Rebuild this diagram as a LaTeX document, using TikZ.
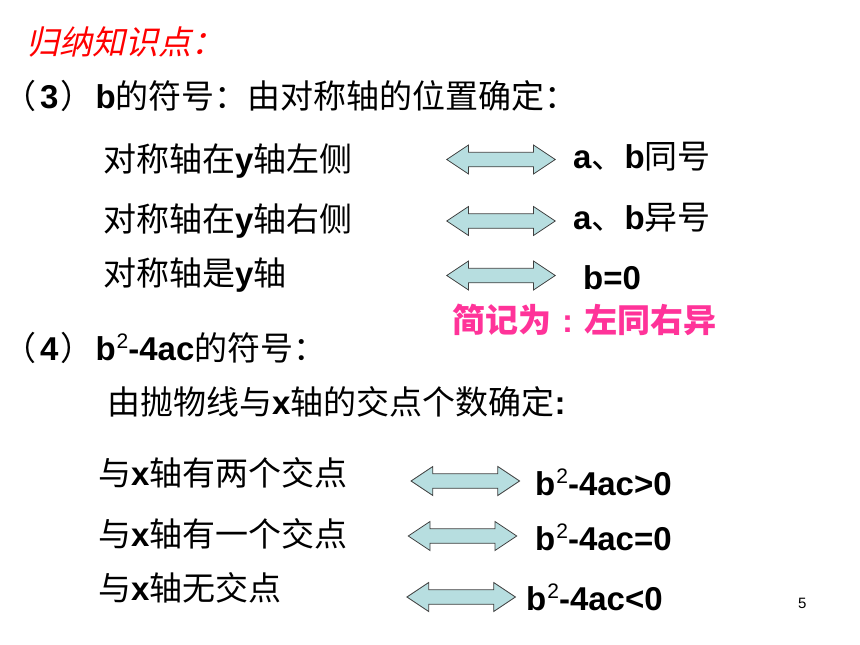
\documentclass[tikz,border=0pt]{standalone}
\usepackage{fontspec}
\setmainfont{Noto Sans CJK SC}
\newfontfamily\latin{Liberation Sans}
\newfontfamily\cjkslant{Noto Sans CJK SC}[FakeSlant=0.22]
\newcommand{\B}[1]{{\latin\bfseries #1}}
\newcommand{\sqtwo}{\hspace{1pt}\raisebox{12pt}{\latin\mdseries\fontsize{21}{21}\selectfont 2}}
\definecolor{arrfill}{HTML}{B7DEE0}
\definecolor{pinkc}{HTML}{FF3399}
\tikzset{
  txt/.style={anchor=base west, inner sep=0pt, font=\fontsize{33}{40}\selectfont},
  barrow/.style={draw=black!75, line width=0.8pt, fill=arrfill, line join=miter},
  dblarrow/.pic={\draw[barrow] (-54.25,0) -- (-32.5,14.5) -- (-32.5,7.25) -- (32.5,7.25)
     -- (32.5,14.5) -- (54.25,0) -- (32.5,-14.5) -- (32.5,-7.25) -- (-32.5,-7.25)
     -- (-32.5,-14.5) -- cycle;}
}
\begin{document}
\begin{tikzpicture}[x=1pt,y=-1pt]
\useasboundingbox[fill=white] (0,0) rectangle (860,645);
% texts
\node[txt] (t0) at (26,54) {\cjkslant\color{red}归纳知识点：};
\node[txt] (t3) at (3,108) {（\hspace{4pt}\B{3}\hspace{2pt}）\hspace{2pt}\B{b}的符号：由对称轴的位置确定：};
\node[txt] (r1) at (103,171) {对称轴在\B{y}轴左侧};
\node[txt] (r2) at (103,231) {对称轴在\B{y}轴右侧};
\node[txt] (r3) at (103,285) {对称轴是\B{y}轴};
\node[txt] (s1) at (573,168) {\B{a}、\B{b}同号};
\node[txt] (s2) at (573,229) {\B{a}、\B{b}异号};
\node[txt] (s3) at (583,289) {\B{b=0}};
\node[txt] (pk) at (452,332) {\bfseries\color{pinkc}简记为\makebox[33pt][c]{\B{:}}左同右异};
\node[txt] (t4) at (3,360) {（\hspace{4pt}\B{4}\hspace{2pt}）\hspace{2pt}\B{b\sqtwo-4ac}的符号：};
\node[txt] (t5) at (107,414) {由抛物线与\B{x}轴的交点个数确定\B{:}};
\node[txt] (u1) at (98,485) {与\B{x}轴有两个交点};
\node[txt] (u2) at (98,546) {与\B{x}轴有一个交点};
\node[txt] (u3) at (98,600) {与\B{x}轴无交点};
\node[txt] (v1) at (535,495) {\B{b\sqtwo-4ac>0}};
\node[txt] (v2) at (535,550) {\B{b\sqtwo-4ac=0}};
\node[txt] (v3) at (526,610) {\B{b\sqtwo-4ac<0}};
\node[anchor=base west, inner sep=0pt, font=\latin\fontsize{15}{18}\selectfont] (pg) at (798,608) {5};
% arrows
\pic at (501,159.5) {dblarrow};
\pic at (501,221) {dblarrow};
\pic at (501,275.5) {dblarrow};
\pic at (465.3,481) {dblarrow};
\pic at (462.5,536) {dblarrow};
\pic at (461.2,597) {dblarrow};
\end{tikzpicture}
\end{document}
